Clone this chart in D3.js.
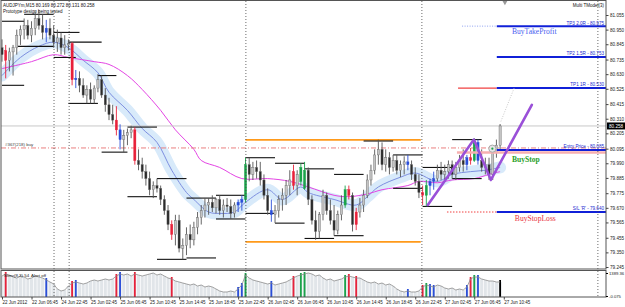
<!DOCTYPE html>
<html>
<head>
<meta charset="utf-8">
<script src="https://cdn.jsdelivr.net/npm/d3@7"></script>
<style>
body { margin: 0; background: #fff; }
svg text { font-family: "Liberation Sans", Arial, sans-serif; }
</style>
</head>
<body>
<div id="chart"></div>
<script>
const width = 625;
const height = 307;

// time labels, one every 8 half-hour bars
const timeLabels = ["22 Jun 2012", "22 Jun 06:45", "24 Jun 22:45", "25 Jun 02:45", "25 Jun 06:45",
    "25 Jun 10:45", "25 Jun 14:45", "25 Jun 18:45", "25 Jun 22:45", "26 Jun 02:45", "26 Jun 06:45",
    "26 Jun 10:45", "26 Jun 14:45", "26 Jun 18:45", "26 Jun 22:45", "27 Jun 02:45", "27 Jun 06:45", "27 Jun 10:45"];

const priceTicks = [81.055, 80.950, 80.845, 80.735, 80.630, 80.525, 80.415, 80.310, 80.205,
    80.095, 79.990, 79.885, 79.775, 79.670, 79.565, 79.455, 79.350, 79.245];

// AUDJPY bars [open, high, low, close]
const bars = [
    [80.82, 80.88, 80.72, 80.77], [80.80, 80.84, 80.60, 80.73], [80.73, 80.82, 80.65, 80.79], [80.79, 80.84, 80.62, 80.82],
    [80.82, 80.95, 80.77, 80.91], [80.91, 80.98, 80.84, 80.95], [80.95, 81.03, 80.88, 80.98], [80.98, 81.02, 80.88, 80.91],
    [80.91, 81.01, 80.86, 80.96], [80.96, 81.08, 80.91, 81.03], [81.03, 81.09, 80.95, 80.98], [80.98, 81.06, 80.88, 80.93],
    [80.93, 81.02, 80.86, 80.96], [80.96, 81.03, 80.88, 80.91], [80.91, 80.98, 80.82, 80.86], [80.86, 80.95, 80.79, 80.89],
    [80.89, 80.93, 80.77, 80.82], [80.82, 80.91, 80.77, 80.84], [80.84, 80.88, 80.80, 80.85], [80.85, 80.86, 80.55, 80.59],
    [80.59, 80.66, 80.53, 80.60], [80.60, 80.65, 80.50, 80.55], [80.55, 80.60, 80.46, 80.48], [80.48, 80.55, 80.42, 80.52],
    [80.52, 80.57, 80.42, 80.45], [80.45, 80.55, 80.42, 80.53], [80.53, 80.63, 80.50, 80.59], [80.59, 80.62, 80.46, 80.48],
    [80.48, 80.53, 80.36, 80.41], [80.41, 80.46, 80.30, 80.34], [80.34, 80.41, 80.27, 80.30], [80.30, 80.40, 80.19, 80.23],
    [80.23, 80.27, 80.09, 80.16], [80.16, 80.23, 80.07, 80.19], [80.19, 80.24, 80.12, 80.21], [80.21, 80.26, 80.17, 80.23],
    [80.23, 80.25, 79.98, 80.01], [80.01, 80.09, 79.94, 79.98], [79.98, 80.03, 79.88, 79.93], [79.93, 79.98, 79.83, 79.88],
    [79.88, 79.93, 79.76, 79.80], [79.80, 79.86, 79.74, 79.83], [79.83, 79.88, 79.78, 79.81], [79.81, 79.83, 79.69, 79.73],
    [79.73, 79.76, 79.62, 79.65], [79.65, 79.69, 79.51, 79.55], [79.55, 79.58, 79.44, 79.48], [79.48, 79.62, 79.40, 79.58],
    [79.58, 79.62, 79.35, 79.38], [79.38, 79.45, 79.30, 79.40], [79.40, 79.53, 79.33, 79.48], [79.48, 79.55, 79.38, 79.44],
    [79.44, 79.57, 79.40, 79.53], [79.53, 79.64, 79.48, 79.60], [79.60, 79.69, 79.55, 79.65], [79.65, 79.74, 79.60, 79.69],
    [79.69, 79.74, 79.62, 79.71], [79.71, 79.76, 79.64, 79.67], [79.67, 79.74, 79.63, 79.73], [79.73, 79.76, 79.62, 79.65],
    [79.65, 79.73, 79.60, 79.69], [79.69, 79.74, 79.64, 79.68], [79.68, 79.73, 79.59, 79.63], [79.63, 79.71, 79.60, 79.69],
    [79.69, 79.73, 79.64, 79.71], [79.71, 79.76, 79.65, 79.73], [79.73, 80.03, 79.71, 79.98], [79.98, 80.03, 79.86, 79.91],
    [79.91, 80.00, 79.87, 79.96], [79.96, 80.01, 79.88, 79.93], [79.93, 80.00, 79.83, 79.87], [79.87, 79.91, 79.73, 79.76],
    [79.76, 79.81, 79.62, 79.65], [79.65, 79.73, 79.57, 79.62], [79.62, 79.69, 79.56, 79.65], [79.65, 79.76, 79.60, 79.73],
    [79.73, 79.81, 79.65, 79.76], [79.76, 79.87, 79.69, 79.83], [79.83, 79.94, 79.76, 79.87], [79.93, 79.98, 79.80, 79.83],
    [79.83, 79.94, 79.76, 79.91], [79.86, 79.99, 79.83, 79.96], [79.81, 80.00, 79.80, 79.94], [79.94, 79.96, 79.69, 79.73],
    [79.73, 79.76, 79.55, 79.58], [79.58, 79.65, 79.44, 79.50], [79.50, 79.64, 79.45, 79.62], [79.62, 79.80, 79.58, 79.76],
    [79.76, 79.78, 79.62, 79.65], [79.65, 79.73, 79.55, 79.58], [79.58, 79.69, 79.47, 79.51], [79.51, 79.65, 79.48, 79.62],
    [79.62, 79.76, 79.58, 79.69], [79.69, 79.83, 79.67, 79.80], [79.80, 79.83, 79.73, 79.76], [79.76, 79.78, 79.50, 79.55],
    [79.55, 79.67, 79.51, 79.64], [79.64, 79.74, 79.60, 79.69], [79.69, 79.80, 79.64, 79.76], [79.76, 79.91, 79.74, 79.87],
    [79.87, 79.98, 79.83, 79.94], [79.94, 80.09, 79.91, 80.05], [80.05, 80.16, 79.98, 80.09], [80.09, 80.14, 79.94, 79.98],
    [79.98, 80.09, 79.93, 80.03], [80.03, 80.07, 79.91, 79.96], [79.96, 80.05, 79.93, 80.01], [80.01, 80.05, 79.91, 79.94],
    [79.94, 80.01, 79.89, 79.98], [79.98, 80.04, 79.91, 80.00], [80.00, 80.05, 79.94, 79.98], [79.98, 80.01, 79.87, 79.91],
    [79.91, 79.96, 79.83, 79.86], [79.86, 79.91, 79.74, 79.78], [79.78, 79.83, 79.69, 79.76], [79.76, 79.87, 79.68, 79.83],
    [79.83, 79.88, 79.76, 79.86], [79.86, 79.93, 79.80, 79.88], [79.88, 79.98, 79.86, 79.94], [79.94, 80.00, 79.87, 79.91],
    [79.91, 79.98, 79.86, 79.93], [79.93, 80.01, 79.88, 79.98], [79.98, 80.01, 79.88, 79.91], [79.91, 80.00, 79.87, 79.96],
    [79.96, 80.05, 79.93, 80.01], [80.01, 80.09, 79.93, 79.98], [79.98, 80.05, 79.94, 80.03], [80.03, 80.10, 79.98, 80.01],
    [80.01, 80.17, 80.00, 80.14], [80.14, 80.16, 79.98, 80.01], [80.01, 80.09, 79.93, 79.96], [79.96, 80.03, 79.91, 79.98],
    [79.98, 80.03, 79.87, 79.91], [79.91, 80.09, 79.87, 80.07], [80.07, 80.16, 80.03, 80.12], [80.12, 80.272, 80.09, 80.258]
];

// signal bars: index, kind (r = red, b = blue, g = green, k = current)
const barMarks = [[1, "r"], [12, "b"], [19, "r"], [20, "b"], [31, "r"], [32, "b"], [36, "r"], [46, "r"],
    [64, "b"], [65, "b"], [66, "g"], [73, "b"], [79, "r"], [81, "g"], [82, "g"], [93, "g"], [94, "r"], [96, "r"],
    [110, "b"], [114, "r"], [115, "g"], [116, "b"], [117, "b"], [126, "b"], [127, "r"], [128, "g"], [129, "b"], [135, "k"]];

// lower window indicator
const volume = [1208, 1329, 1268, 1148, 1087, 1208, 1148, 1027, 1087, 1208, 1148, 1087, 966, 846, 725,
    423, 302, 362, 604, 785, 846, 785, 725, 785, 906, 966, 906, 966, 1027, 966, 1027,
    1208, 1329, 1268, 1329, 1208, 1329, 1268, 1208, 1268, 1329, 1389, 1268, 1329, 1208,
    1087, 1027, 906, 846, 785, 725, 664, 725, 604, 664, 544, 604, 544,
    423, 302, 242, 242, 302, 242, 423, 664, 1268,
    1087, 966, 906, 846, 785, 725, 785, 664, 725, 785, 846, 966,
    1087, 1208, 1268, 1329, 1389, 1329, 1208, 1268,
    1087, 966, 1027, 906, 966, 1027, 1148, 1208, 1148, 1087, 1087, 966,
    846, 785, 846, 725, 785, 664, 725, 604, 423, 302, 242, 302, 242, 242, 302,
    544, 664, 604, 544, 664, 604, 483, 423, 483, 362, 423, 362, 544,
    1027, 1148, 1148, 1027, 966, 906, 906, 846, 846];

// moving averages read at points [bar, price]
const fastMA = [[0, 80.62], [5, 80.75], [10, 80.83], [14, 80.86], [18, 80.82], [22, 80.73], [26, 80.64],
    [29, 80.50], [34, 80.37], [38, 80.24], [42, 80.14], [46, 79.94], [50, 79.78], [52, 79.73], [56, 79.64],
    [59, 79.63], [63, 79.64], [66, 79.71], [72, 79.80], [76, 79.73], [81, 79.82], [83, 79.78], [90, 79.73],
    [96, 79.69], [99, 79.75], [102, 79.82], [108, 79.89], [112, 79.92], [118, 79.86], [122, 79.91],
    [127, 79.93], [131, 79.94], [135, 79.96]];
const slowMA = [[0, 80.67], [8, 80.72], [14, 80.77], [18, 80.75], [25, 80.72], [29, 80.70], [34, 80.62],
    [38, 80.52], [43, 80.37], [47, 80.23], [52, 80.09], [54, 80.01], [59, 79.96], [65, 79.88], [72, 79.88],
    [78, 79.86], [83, 79.82], [90, 79.76], [94, 79.75], [99, 79.77], [103, 79.80], [110, 79.83], [113, 79.86],
    [118, 79.85], [122, 79.87], [128, 79.88], [132, 79.91], [135, 79.93]];

// fractal levels [fromBar, toBar, price]
const levels = [[0, 6, 81.01], [6, 14, 81.06], [4, 14, 80.83], [0, 6, 80.55], [14, 21, 80.93], [18, 27, 80.86],
    [14, 20, 80.75], [18, 26, 80.42], [26, 31, 80.62], [34, 42, 80.25], [27, 34, 80.07], [42, 50, 79.88],
    [34, 42, 79.75], [50, 58, 79.74], [58, 66, 79.76], [42, 50, 79.30], [50, 58, 79.31], [58, 66, 79.59],
    [66, 74, 80.03], [74, 82, 79.99], [82, 90, 79.95], [90, 98, 79.91], [98, 106, 80.15], [106, 114, 80.05],
    [106, 114, 79.81], [66, 74, 79.63], [74, 82, 79.56], [82, 90, 79.45], [90, 98, 79.47], [114, 122, 79.96],
    [122, 130, 79.88], [114, 122, 79.68], [122, 130, 80.16]];

const rangeBars = [66, 113.5];
const rangePrices = [80.158, 79.425];
const separators = [14.1, 18.2, 66.1, 113.8, 161.5];
const currentPrice = 80.258;
const orderPrice = 80.10;

const tradeNames = ["TP3 2.0R - 80.975", "TP2 1.5R - 80.753", "TP1 1R - 80.530", "Entry Price - 80.085", "S/L 'R' - 79.640"];
const tradePrices = [80.975, 80.753, 80.530, 80.085, 79.640];
const tradeStart = 134.1;

// pattern legs [bar, price]
const zigzag = [[115.4, 79.69], [127.9, 80.16], [132.5, 79.87], [143.6, 80.41]];
const projection = [[135.2, 80.29], [138.8, 80.53]];

const svg = d3.select("#chart")
    .append("svg")
    .attr("width", width)
    .attr("height", height)
    .style("display", "block");

const x = d3.scaleLinear().domain([0, 163.7]).range([2, 606]);
const y = d3.scaleLinear().domain([79.245, 81.055]).range([267, 15]);
const y2 = d3.scaleLinear().domain([0, 1389.36]).range([296, 273]);

svg.append("rect").attr("width", width).attr("height", height).attr("fill", "#fff");

svg.append("clipPath").attr("id", "mainClip")
    .append("rect").attr("x", 1).attr("y", 1).attr("width", 605).attr("height", 268);
svg.append("clipPath").attr("id", "subClip")
    .append("rect").attr("x", 1).attr("y", 270).attr("width", 605).attr("height", 27);

const main = svg.append("g").attr("clip-path", "url(#mainClip)");
const sub = svg.append("g").attr("clip-path", "url(#subClip)");

const maLine = d3.line()
    .x(d => x(d[0]))
    .y(d => y(d[1]))
    .curve(d3.curveCatmullRom.alpha(0.5));

// envelope band + averages
main.append("path").attr("d", maLine(fastMA))
    .attr("fill", "none").attr("stroke", "#d8eafa").attr("stroke-width", 12).attr("stroke-linecap", "round");
main.append("path").attr("d", maLine(fastMA))
    .attr("fill", "none").attr("stroke", "#7d8fe0").attr("stroke-width", 1);
main.append("path").attr("d", maLine(slowMA))
    .attr("fill", "none").attr("stroke", "#e445e4").attr("stroke-width", 1);

// separators
svg.append("g").selectAll("line")
    .data(separators)
    .enter()
    .append("line")
    .attr("x1", d => x(d)).attr("x2", d => x(d))
    .attr("y1", 1).attr("y2", 297)
    .attr("stroke", "#444").attr("stroke-width", 0.8).attr("stroke-dasharray", "1,2");

// full width lines
main.append("line")
    .attr("x1", 1).attr("x2", 606).attr("y1", y(currentPrice)).attr("y2", y(currentPrice))
    .attr("stroke", "#c8c8c8").attr("stroke-width", 1);
main.append("line")
    .attr("x1", 1).attr("x2", 606).attr("y1", y(orderPrice)).attr("y2", y(orderPrice))
    .attr("stroke", "#e87070").attr("stroke-width", 0.9).attr("stroke-dasharray", "5,2,1,2");

// range box
main.selectAll(".range")
    .data(rangePrices)
    .enter()
    .append("line")
    .attr("class", "range")
    .attr("x1", x(rangeBars[0])).attr("x2", x(rangeBars[1]))
    .attr("y1", d => y(d)).attr("y2", d => y(d))
    .attr("stroke", "#ff9a1a").attr("stroke-width", 1.8);

// fractal levels
main.selectAll(".level")
    .data(levels)
    .enter()
    .append("line")
    .attr("class", "level")
    .attr("x1", d => x(d[0])).attr("x2", d => x(d[1]))
    .attr("y1", d => y(d[2])).attr("y2", d => y(d[2]))
    .attr("stroke", "#111").attr("stroke-width", 1.1);

// candles
const markMap = new Map(barMarks);
const markColor = { r: "#e8213a", b: "#2a4ed8", g: "#1aa34a", k: "#000" };

const candles = main.selectAll(".candle")
    .data(bars)
    .enter()
    .append("g")
    .attr("class", "candle");

candles.append("line")
    .attr("x1", (d, i) => x(i)).attr("x2", (d, i) => x(i))
    .attr("y1", d => y(d[1])).attr("y2", d => y(d[2]))
    .attr("stroke", (d, i) => {
        const m = markMap.get(i);
        return m && m !== "k" ? markColor[m] : "#555";
    })
    .attr("stroke-width", 0.9);

candles.append("rect")
    .attr("x", (d, i) => x(i) - 1.1)
    .attr("width", 2.2)
    .attr("y", d => y(Math.max(d[0], d[3])))
    .attr("height", d => Math.max(0.8, Math.abs(y(d[0]) - y(d[3]))))
    .attr("fill", (d, i) => {
        const m = markMap.get(i);
        if (m && m !== "k") return markColor[m];
        return d[3] >= d[0] ? "#c4c4c4" : "#2b2b2b";
    })
    .attr("stroke", (d, i) => {
        const m = markMap.get(i);
        return m && m !== "k" ? markColor[m] : "#666";
    })
    .attr("stroke-width", 0.4);

// trade lines
const tl = main.append("g");
tl.append("line")
    .attr("x1", x(124.7)).attr("x2", x(tradeStart))
    .attr("y1", y(tradePrices[0])).attr("y2", y(tradePrices[0]))
    .attr("stroke", "#8fa0f0").attr("stroke-width", 1).attr("stroke-dasharray", "1,1.5");
tl.append("line")
    .attr("x1", x(123.6)).attr("x2", x(tradeStart))
    .attr("y1", y(tradePrices[2])).attr("y2", y(tradePrices[2]))
    .attr("stroke", "#f04040").attr("stroke-width", 1.2);
tl.append("line")
    .attr("x1", x(120.6)).attr("x2", x(tradeStart))
    .attr("y1", y(tradePrices[4])).attr("y2", y(tradePrices[4]))
    .attr("stroke", "#f04040").attr("stroke-width", 1).attr("stroke-dasharray", "1.5,1.5");
tl.append("line")
    .attr("x1", x(123.3)).attr("x2", 606)
    .attr("y1", y(tradePrices[3]) + 2.5).attr("y2", y(tradePrices[3]) + 2.5)
    .attr("stroke", "#f7b0b0").attr("stroke-width", 2.5);
tl.selectAll(".tp")
    .data(tradePrices)
    .enter()
    .append("line")
    .attr("class", "tp")
    .attr("x1", x(tradeStart)).attr("x2", 606)
    .attr("y1", d => y(d)).attr("y2", d => y(d))
    .attr("stroke", "#1020d8").attr("stroke-width", 2);
tl.selectAll(".tplabel")
    .data(tradeNames)
    .enter()
    .append("text")
    .attr("class", "tplabel")
    .attr("x", 604)
    .attr("y", (d, i) => y(tradePrices[i]) - 1.6)
    .attr("text-anchor", "end")
    .attr("font-size", 4.6)
    .attr("fill", "#1a2ad0")
    .text(d => d);

// pattern
main.append("path")
    .attr("d", d3.line().x(d => x(d[0])).y(d => y(d[1]))(projection))
    .attr("fill", "none").attr("stroke", "#bbb").attr("stroke-width", 0.8).attr("stroke-dasharray", "1,1.5");
main.append("path")
    .attr("d", d3.line().x(d => x(d[0])).y(d => y(d[1]))(zigzag))
    .attr("fill", "none").attr("stroke", "#9a50d8").attr("stroke-width", 2.6)
    .attr("stroke-linejoin", "round").attr("stroke-linecap", "round");

main.append("circle").attr("cx", x(132.9)).attr("cy", y(80.095)).attr("r", 3.6)
    .attr("fill", "#e6e6e6").attr("stroke", "#aaa").attr("stroke-width", 1);
main.append("circle").attr("cx", x(132.9)).attr("cy", y(80.095)).attr("r", 1.1).attr("fill", "#1aa34a");

// object labels (serif, like the terminal's text objects)
const serif = "'Liberation Serif', 'DejaVu Serif', serif";
main.append("text").attr("x", x(138.2)).attr("y", y(tradePrices[0]) + 8)
    .style("font-family", serif).attr("font-size", 7.6).attr("fill", "#4a5ef0")
    .text("BuyTakeProfit");
main.append("text").attr("x", x(138.2)).attr("y", y(tradePrices[3]) + 12)
    .style("font-family", serif).attr("font-size", 7.6).attr("font-weight", "bold")
    .attr("fill", "#2aa02a")
    .text("BuyStop");
main.append("text").attr("x", x(139)).attr("y", y(tradePrices[4]) + 8.5)
    .style("font-family", serif).attr("font-size", 7.6).attr("fill", "#e83040")
    .text("BuyStopLoss");
main.append("text").attr("x", 5).attr("y", y(orderPrice) - 1.5)
    .attr("font-size", 4.4).attr("fill", "#444")
    .text("#367(218) buy");

// lower window
sub.selectAll(".hist")
    .data(volume)
    .enter()
    .append("rect")
    .attr("class", "hist")
    .attr("x", (d, i) => x(i) - 1.5)
    .attr("width", 3)
    .attr("y", d => y2(d))
    .attr("height", d => 297 - y2(d))
    .attr("fill", "#e1e5e9");
sub.selectAll(".sig")
    .data(barMarks)
    .enter()
    .append("rect")
    .attr("class", "sig")
    .attr("x", d => x(d[0]) - 0.9)
    .attr("width", 1.8)
    .attr("y", d => y2(volume[d[0]]) - 2)
    .attr("height", d => 297 - y2(volume[d[0]]) + 2)
    .attr("fill", d => markColor[d[1]]);
sub.append("path")
    .attr("d", d3.line().x((d, i) => x(i)).y(d => y2(d))(volume))
    .attr("fill", "none").attr("stroke", "#8c8c8c").attr("stroke-width", 0.8);
sub.append("text").attr("x", 4).attr("y", 277).attr("font-size", 4.4).attr("fill", "#222").text("Stmv(8,3) 54");
sub.append("text").attr("x", 31).attr("y", 277).attr("font-size", 4.4).attr("fill", "#222").text("Alert off");

// frames
svg.append("rect").attr("x", 1).attr("y", 0.5).attr("width", 605).attr("height", 268.5)
    .attr("fill", "none").attr("stroke", "#555").attr("stroke-width", 1);
svg.append("rect").attr("x", 1).attr("y", 270.5).attr("width", 605).attr("height", 26.5)
    .attr("fill", "none").attr("stroke", "#555").attr("stroke-width", 1);

// price axis
const yAxis = svg.append("g")
    .attr("transform", "translate(606,0)")
    .call(d3.axisRight(y).tickValues(priceTicks).tickFormat(d3.format(".3f")).tickSize(2.5).tickPadding(1.5));
yAxis.select(".domain").remove();
yAxis.selectAll("text").attr("font-size", 4.6).attr("fill", "#222");
yAxis.selectAll("line").attr("stroke", "#444");

const y2Axis = svg.append("g")
    .attr("transform", "translate(606,0)")
    .call(d3.axisRight(y2).tickValues([0, 1389.36]).tickFormat((d, i) => i ? "1389.36" : "-0.075").tickSize(2).tickPadding(1));
y2Axis.select(".domain").remove();
y2Axis.selectAll("text").attr("font-size", 4.2).attr("fill", "#222");

// current price marker
svg.append("rect").attr("x", 607).attr("y", y(currentPrice) - 3.5).attr("width", 18).attr("height", 7).attr("fill", "#000");
svg.append("text").attr("x", 609).attr("y", y(currentPrice) + 1.7).attr("font-size", 4.6).attr("fill", "#fff").text("80.258");

// time axis
const xAxis = svg.append("g")
    .attr("transform", "translate(0,297)")
    .call(d3.axisBottom(x).tickValues(d3.range(0, 137, 8)).tickFormat((d, i) => timeLabels[i]).tickSize(2.5).tickPadding(1.5));
xAxis.select(".domain").remove();
xAxis.selectAll("text").attr("font-size", 4.5).attr("fill", "#222").attr("text-anchor", "start");
xAxis.selectAll("line").attr("stroke", "#444");

// header texts
svg.append("text").attr("x", 3).attr("y", 6.5).attr("font-size", 4.5).attr("fill", "#111")
    .text("AUDJPYm,M15  80.169 80.272 80.131 80.258");
svg.append("text").attr("x", 3).attr("y", 12.5).attr("font-size", 4.5).attr("fill", "#111")
    .text("Prototype design being tested");
svg.append("text").attr("x", 604).attr("y", 7).attr("font-size", 4.5).attr("fill", "#111").attr("text-anchor", "end")
    .text("Multi TModel(3)");
svg.append("path").attr("d", d3.symbol(d3.symbolTriangle, 10)()).attr("transform", `translate(${x(136.3)},2.5) rotate(180)`)
    .attr("fill", "#999");
</script>
</body>
</html>
